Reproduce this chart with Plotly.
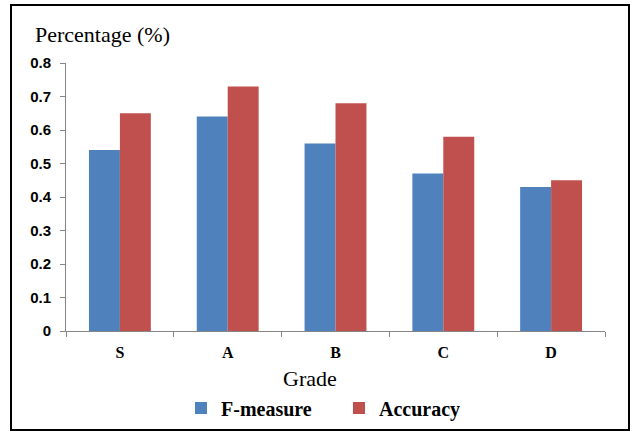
import plotly.graph_objects as go

grades = ["S", "A", "B", "C", "D"]
f_measure = [0.54, 0.64, 0.56, 0.47, 0.43]
accuracy = [0.65, 0.73, 0.68, 0.58, 0.45]
y_ticks = [0, 0.1, 0.2, 0.3, 0.4, 0.5, 0.6, 0.7, 0.8]
y_tick_text = ["0", "0.1", "0.2", "0.3", "0.4", "0.5", "0.6", "0.7", "0.8"]

BLUE = "#4F81BD"
RED = "#C0504D"
SERIF = "Liberation Serif"
SANS = "Liberation Sans"

W, H = 632, 432
L, R, T, B = 66, 27, 63, 101
pw, ph = W - L - R, H - T - B

def px_x(x):
    return (x - L) / pw

def px_y(y):
    return (H - B - y) / ph

fig = go.Figure()
fig.add_trace(go.Bar(name="F-measure", x=grades, y=f_measure, marker=dict(color=BLUE, line=dict(width=0))))
fig.add_trace(go.Bar(name="Accuracy", x=grades, y=accuracy, marker=dict(color=RED, line=dict(width=0))))

fig.update_layout(
    width=W, height=H,
    margin=dict(l=L, r=R, t=T, b=B, autoexpand=False),
    paper_bgcolor="white", plot_bgcolor="white",
    font=dict(family=SERIF),
    barmode="group", bargap=0.426, bargroupgap=0,
    showlegend=True,
    legend=dict(orientation="h", xref="container", yref="container",
                x=181 / W, xanchor="left", y=(H - 408) / H, yanchor="middle",
                font=dict(family=SERIF, size=20, color="black", weight="bold"),
                entrywidth=113, entrywidthmode="pixels", bgcolor="rgba(0,0,0,0)"),
    xaxis=dict(showline=True, linecolor="#868686", linewidth=1, ticks="outside", tickson="boundaries",
               ticklen=5, tickcolor="#868686", showgrid=False, ticklabelstandoff=7,
               tickfont=dict(family=SERIF, size=16, color="black", weight="bold")),
    yaxis=dict(range=[0, 0.8], tickvals=y_ticks, ticktext=y_tick_text, showline=True, linecolor="#868686",
               linewidth=1, ticks="outside", ticklen=5, tickcolor="#868686", showgrid=False, zeroline=False,
               tickfont=dict(family=SANS, size=15, color="black", weight="bold"), ticklabelstandoff=6),
    annotations=[
        dict(text="Percentage (%)", xref="paper", yref="paper", x=px_x(33), y=px_y(34), xanchor="left",
             yanchor="middle", showarrow=False, font=dict(family=SERIF, size=22, color="black")),
        dict(text="Grade", xref="paper", yref="paper", x=px_x(310), y=px_y(378), xanchor="center",
             yanchor="middle", showarrow=False, font=dict(family=SERIF, size=22, color="black")),
    ],
    shapes=[dict(type="rect", xref="paper", yref="paper", x0=px_x(11), x1=px_x(629), y0=px_y(430), y1=px_y(5),
                 line=dict(color="black", width=2), layer="below")],
)

fig.write_html("out.html", config={"displayModeBar": False},
               post_script="document.body.style.margin='0';")
